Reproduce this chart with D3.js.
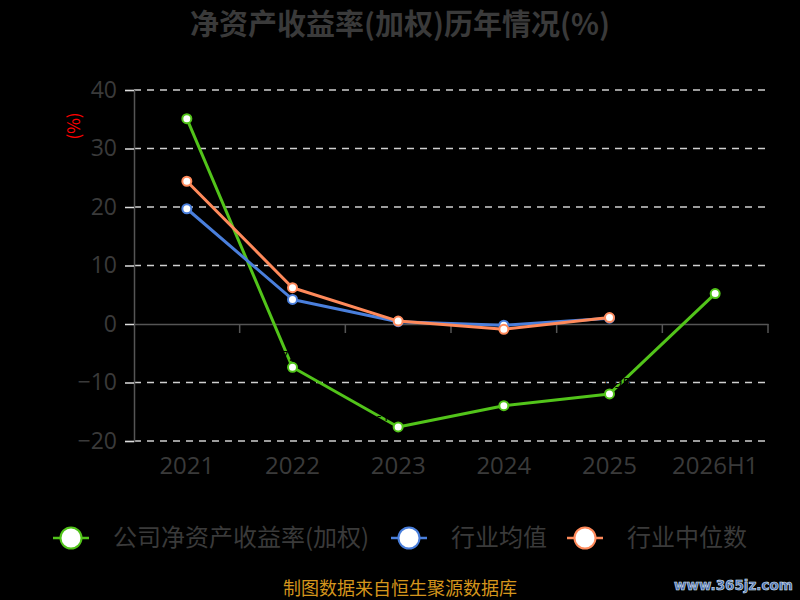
<!DOCTYPE html>
<html>
<head>
<meta charset="utf-8">
<script src="https://cdn.jsdelivr.net/npm/d3@7.9.0/dist/d3.min.js"></script>
<style>
  body { margin: 0; background: #000; }
  svg { display: block; font-family: "Noto Sans CJK SC", "Noto Sans", sans-serif; }
</style>
</head>
<body>
<svg id="chart" width="800" height="600"></svg>
<script>
const categories = ['2021', '2022', '2023', '2024', '2025', '2026H1'];
const companyRoe = [35.1, -7.4, -17.6, -13.97, -11.95, 5.2];
const industryMean = [19.7, 4.2, 0.4, -0.2, 1.0];
const industryMedian = [24.4, 6.2, 0.5, -0.9, 1.1];
const yTicks = [-20, -10, 0, 10, 20, 30, 40];

const seriesList = [
    { name: '公司净资产收益率(加权)', values: companyRoe, color: '#52c41a', labels: true },
    { name: '行业均值', values: industryMean, color: '#4a7fdc', labels: false },
    { name: '行业中位数', values: industryMedian, color: '#ff8a5b', labels: false }
];

const svg = d3.select('#chart');
const margin = { left: 134, right: 32, top: 90, bottom: 159 };

const x = d3.scaleBand().domain(categories).range([margin.left, 800 - margin.right]);
const y = d3.scaleLinear().domain([-20, 40]).range([441, 90]);

svg.append('rect').attr('width', 800).attr('height', 600).attr('fill', '#000');

// title
svg.append('text')
    .attr('x', 400).attr('y', 35)
    .attr('text-anchor', 'middle')
    .attr('fill', '#3a3a3a')
    .attr('font-size', 29).attr('font-weight', 'bold')
    .text('净资产收益率(加权)历年情况(%)');

// grid lines
svg.append('g')
    .selectAll('line')
    .data(yTicks.filter(d => d !== 0))
    .join('line')
    .attr('x1', margin.left).attr('x2', 768)
    .attr('y1', d => y(d)).attr('y2', d => y(d))
    .attr('stroke', '#d0d0d0').attr('stroke-width', 1.5)
    .attr('stroke-dasharray', '7,6');

// y axis
const yAxis = svg.append('g')
    .attr('transform', `translate(${margin.left},0)`)
    .call(d3.axisLeft(y).tickValues(yTicks).tickSize(9).tickPadding(8));
yAxis.select('.domain').attr('stroke', '#555').attr('stroke-width', 1.5);
yAxis.selectAll('.tick line').attr('stroke', '#ddd').attr('stroke-width', 1.5);
yAxis.selectAll('.tick text')
    .attr('fill', '#3a3a3a').attr('font-size', 23)
    .attr('font-family', '"Open Sans", sans-serif');

// y axis unit
svg.append('text')
    .attr('transform', 'translate(80,126) rotate(-90)')
    .attr('text-anchor', 'middle')
    .attr('fill', '#ff0000').attr('font-size', 17)
    .text('(%)');

// x axis at zero
const xAxis = svg.append('g')
    .attr('transform', `translate(0,${y(0)})`)
    .call(d3.axisBottom(x).tickSize(0).tickFormat(''));
xAxis.select('.domain').attr('stroke', '#555').attr('stroke-width', 1.5);
svg.append('g')
    .selectAll('line')
    .data(categories)
    .join('line')
    .attr('x1', d => x(d) + x.bandwidth()).attr('x2', d => x(d) + x.bandwidth())
    .attr('y1', y(0)).attr('y2', y(0) + 9)
    .attr('stroke', '#555').attr('stroke-width', 1.5);

svg.append('g')
    .selectAll('text')
    .data(categories)
    .join('text')
    .attr('x', d => x(d) + x.bandwidth() / 2)
    .attr('y', 474)
    .attr('text-anchor', 'middle')
    .attr('fill', '#3a3a3a').attr('font-size', 24)
    .attr('font-family', '"Open Sans", sans-serif')
    .text(d => d);

// lines
const line = d3.line()
    .x((d, i) => x(categories[i]) + x.bandwidth() / 2)
    .y(d => y(d));

seriesList.forEach(s => {
    const g = svg.append('g');
    g.append('path')
        .datum(s.values)
        .attr('d', line)
        .attr('fill', 'none')
        .attr('stroke', s.color)
        .attr('stroke-width', 3)
        .attr('stroke-linejoin', 'round');
    g.selectAll('circle')
        .data(s.values)
        .join('circle')
        .attr('cx', (d, i) => x(categories[i]) + x.bandwidth() / 2)
        .attr('cy', d => y(d))
        .attr('r', 4.5)
        .attr('fill', '#fff')
        .attr('stroke', s.color)
        .attr('stroke-width', 2);
    if (s.labels) {
        // dark value labels, mostly lost in the black background
        g.selectAll('text')
            .data(s.values)
            .join('text')
            .attr('x', (d, i) => x(categories[i]) + x.bandwidth() / 2)
            .attr('y', d => y(d) - 6)
            .attr('text-anchor', 'middle')
            .attr('fill', '#000').attr('font-size', 15)
            .attr('font-family', '"Open Sans", sans-serif')
            .text(d => d.toFixed(2));
    }
});

// legend
const legendPos = [71, 409, 585];
const legend = svg.append('g');
seriesList.forEach((s, i) => {
    const cx = legendPos[i];
    legend.append('line')
        .attr('x1', cx - 18).attr('x2', cx + 18)
        .attr('y1', 538).attr('y2', 538)
        .attr('stroke', s.color).attr('stroke-width', 2.5);
    legend.append('circle')
        .attr('cx', cx).attr('cy', 538).attr('r', 10.5)
        .attr('fill', '#fff')
        .attr('stroke', s.color).attr('stroke-width', 2);
    legend.append('text')
        .attr('x', cx + 42).attr('y', 546)
        .attr('fill', '#3a3a3a').attr('font-size', 24)
        .text(s.name);
});

// footer
svg.append('text')
    .attr('x', 400).attr('y', 595)
    .attr('text-anchor', 'middle')
    .attr('fill', '#d4951c').attr('font-size', 18)
    .text('制图数据来自恒生聚源数据库');

svg.append('text')
    .attr('x', 674).attr('y', 590)
    .attr('fill', '#4a6fb0').attr('stroke', '#dfe8f5').attr('stroke-width', 0.6)
    .attr('font-size', 13.5).attr('font-weight', 'bold')
    .attr('font-family', '"DejaVu Sans", sans-serif')
    .text('www.365jz.com');
</script>
</body>
</html>
